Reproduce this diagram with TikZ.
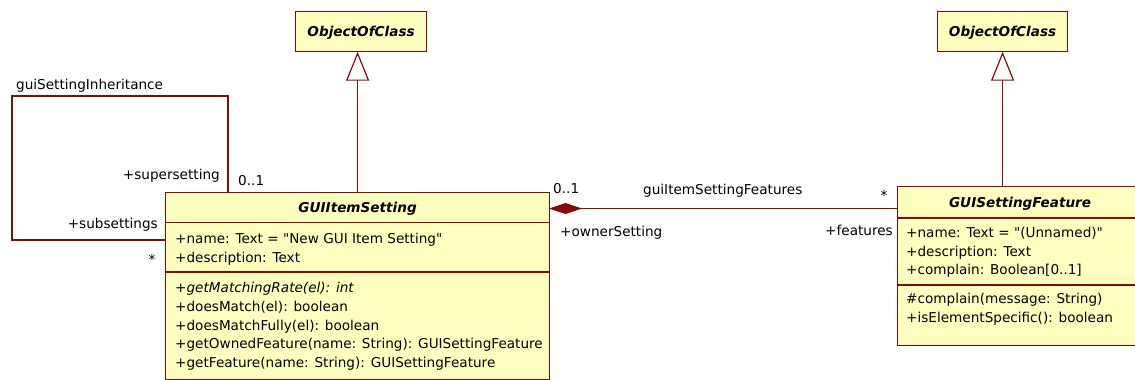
\documentclass[tikz,border=0pt]{standalone}
\usepackage{fontspec}
\setmainfont{DejaVu Sans}[Ligatures=TeXOff]
\usetikzlibrary{arrows.meta}
\definecolor{umlred}{RGB}{135,10,10}
\definecolor{umlyellow}{RGB}{255,255,192}

\begin{document}
\begin{tikzpicture}[x=1pt,y=-1pt,
    font=\fontsize{13.6}{18.8}\selectfont,
    cls/.style={draw=umlred,fill=umlyellow,line width=1.2pt,anchor=north west,inner sep=0pt},
    title/.style={font=\fontsize{13.6}{16}\selectfont\bfseries\itshape,text height=9.9pt,text depth=0pt},
    members/.style={anchor=north west,inner sep=0pt,align=left},
    assoc/.style={draw=umlred,line width=1.2pt},
    gen/.style={assoc,-{Triangle[open,length=29pt,width=23pt]}},
    comp/.style={assoc,{Diamond[length=33pt,width=11pt]}-},
    lbl/.style={inner sep=0pt,text height=9.9pt,text depth=0pt}]
\useasboundingbox (0,0) rectangle (1135,380);

    % classes
    \node[cls,title,minimum width=131pt,minimum height=40pt] (obj1) at (295,10.5) {ObjectOfClass};
    \node[cls,title,minimum width=130pt,minimum height=40pt] (obj2) at (937,10.5) {ObjectOfClass};

    \node[cls,minimum width=384pt,minimum height=187pt] (item) at (165,192) {};
    \node[title] (itemname) at ([yshift=-16pt]item.north) {GUIItemSetting};
    \draw[assoc] ([yshift=-30.7pt]item.north west) -- ([yshift=-30.7pt]item.north east);
    \draw[assoc] ([yshift=-80pt]item.north west) -- ([yshift=-80pt]item.north east);
    \node[members] (itemattr) at (175,233.3) {+name: Text = "New GUI Item Setting"\\+description: Text};
    \node[members] (itemops) at (175,282) {{\itshape +getMatchingRate(el): int}\\+doesMatch(el): boolean\\+doesMatchFully(el): boolean\\+getOwnedFeature(name: String): GUISettingFeature\\+getFeature(name: String): GUISettingFeature};

    \node[cls,minimum width=245pt,minimum height=158.5pt] (feat) at (897,186) {};
    \node[title] (featname) at ([yshift=-16.7pt]feat.north) {GUISettingFeature};
    \draw[assoc] ([yshift=-32pt]feat.north west) -- ([yshift=-32pt]feat.north east);
    \draw[assoc] ([yshift=-99pt]feat.north west) -- ([yshift=-99pt]feat.north east);
    \node[members] (featattr) at (906,226.7) {+name: Text = "(Unnamed)"\\+description: Text\\+complain: Boolean[0..1]};
    \node[members] (featops) at (906,293.3) {\#complain(message: String)\\+isElementSpecific(): boolean};

    % generalizations
    \draw[gen] (item.north) -- (item.north |- obj1.south);
    \draw[gen] (obj2.south |- feat.north) -- (obj2.south);

    % composition
    \coordinate (ownerend) at (549,208.5);
    \draw[comp] (ownerend) -- (ownerend -| feat.west);
    \node[lbl,anchor=west] (ownmult) at (553,188.3) {0..1};
    \node[lbl,anchor=west] (assocname) at (643,189.5) {guiItemSettingFeatures};
    \node[lbl] (featmult) at (884,196) {*};
    \node[lbl,anchor=west] (ownrole) at (560,231.5) {+ownerSetting};
    \node[lbl,anchor=east] (featrole) at (893,230.8) {+features};

    % self association
    \coordinate (supend) at (228,192);
    \coordinate (loopcorner) at (12,96);
    \coordinate (subend) at (165,240);
    \draw[assoc] (supend) |- (loopcorner) |- (subend);
    \node[lbl,anchor=west] (inhname) at (16,84.5) {guiSettingInheritance};
    \node[lbl,anchor=east] (suprole) at (220,174.5) {+supersetting};
    \node[lbl,anchor=west] (supmult) at (238,181) {0..1};
    \node[lbl,anchor=east] (subrole) at (158,224) {+subsettings};
    \node[lbl] (submult) at (152,259.5) {*};
\end{tikzpicture}
\end{document}
